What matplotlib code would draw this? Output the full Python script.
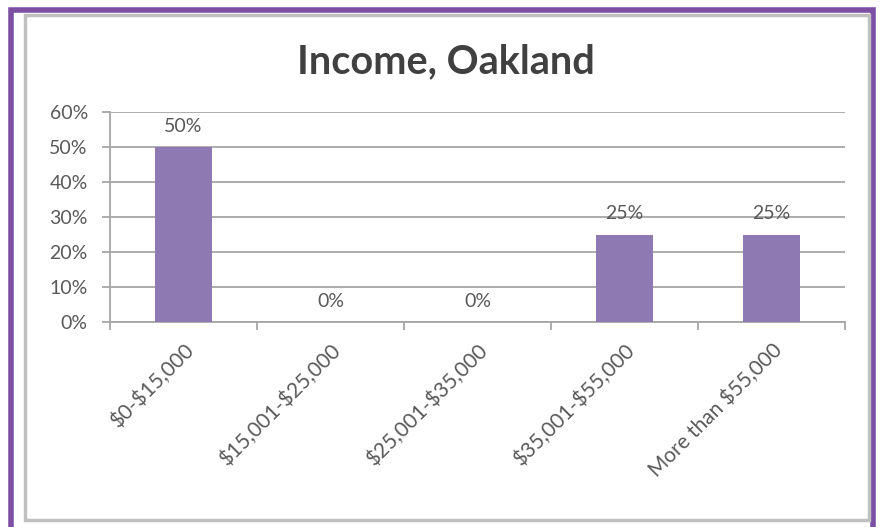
import numpy as np
import matplotlib.pyplot as plt
from matplotlib.patches import Rectangle
from matplotlib.ticker import FixedLocator, NullFormatter

# Data ----------------------------------------------------

categories = ['$0-$15,000', '$15,001-$25,000', '$25,001-$35,000',
              '$35,001-$55,000', 'More than $55,000']
shares = [50, 0, 0, 25, 25]                           # percent
y_ticks = [0, 10, 20, 30, 40, 50, 60]

# Style ---------------------------------------------------

bar_color = '#8f79b3'
grid_color = '#a6a6a6'
text_color = '#595959'
purple = '#7d4fa3'
plt.rcParams['font.family'] = ['Lato', 'DejaVu Sans']
plt.rcParams['text.parse_math'] = False

# Plot ----------------------------------------------------

fig = plt.figure(figsize=(8.8, 5.27), dpi=100)

# outer frame: purple border and gray inner border
fig.patches.append(Rectangle((11 / 880, -0.05), 862 / 880, 1.05 - 10 / 527,
                             transform=fig.transFigure, fill=False,
                             ec=purple, lw=4))
fig.patches.append(Rectangle((25 / 880, 1 - 520 / 527), 844 / 880, (520 - 15) / 527,
                             transform=fig.transFigure, fill=False,
                             ec='#c0c0c0', lw=2.5))

ax = fig.add_axes([110 / 880, 1 - 322 / 527, 735 / 880, 210 / 527])
x = np.arange(len(categories))
ax.bar(x, shares, width=0.39, color=bar_color, zorder=3)

ax.set_xlim(-0.5, len(categories) - 0.5)
ax.set_ylim(0, 60)
ax.set_yticks(y_ticks)
ax.set_yticklabels([f'{v}%' for v in y_ticks], fontsize=14, color=text_color)
ax.yaxis.grid(True, color=grid_color, lw=1.3, zorder=0)
ax.tick_params(axis='y', length=6, color=grid_color, width=1.3, pad=10)

ax.set_xticks(x)
ax.set_xticklabels(categories, rotation=45, ha='right', rotation_mode='anchor',
                   fontsize=15, color=text_color)
ax.tick_params(axis='x', length=0, pad=13)
ax.xaxis.set_minor_locator(FixedLocator(np.arange(-0.5, len(categories), 1)))
ax.xaxis.set_minor_formatter(NullFormatter())
ax.tick_params(axis='x', which='minor', length=6, color=grid_color, width=1.3)

for s in ['top', 'right']:
    ax.spines[s].set_visible(False)
for s in ['left', 'bottom']:
    ax.spines[s].set_color(grid_color)
    ax.spines[s].set_linewidth(1.3)

for xi, v in zip(x, shares):
    ax.annotate(f'{v}%', (xi, v), xytext=(0, 15), textcoords='offset points',
                ha='center', va='center', fontsize=14, color=text_color, zorder=4)

fig.text(446 / 880, 1 - 62 / 527, 'Income, Oakland', ha='center', va='center',
         fontsize=28.5, fontweight='bold', color='#404040')

fig.savefig('out.png', dpi=100)
